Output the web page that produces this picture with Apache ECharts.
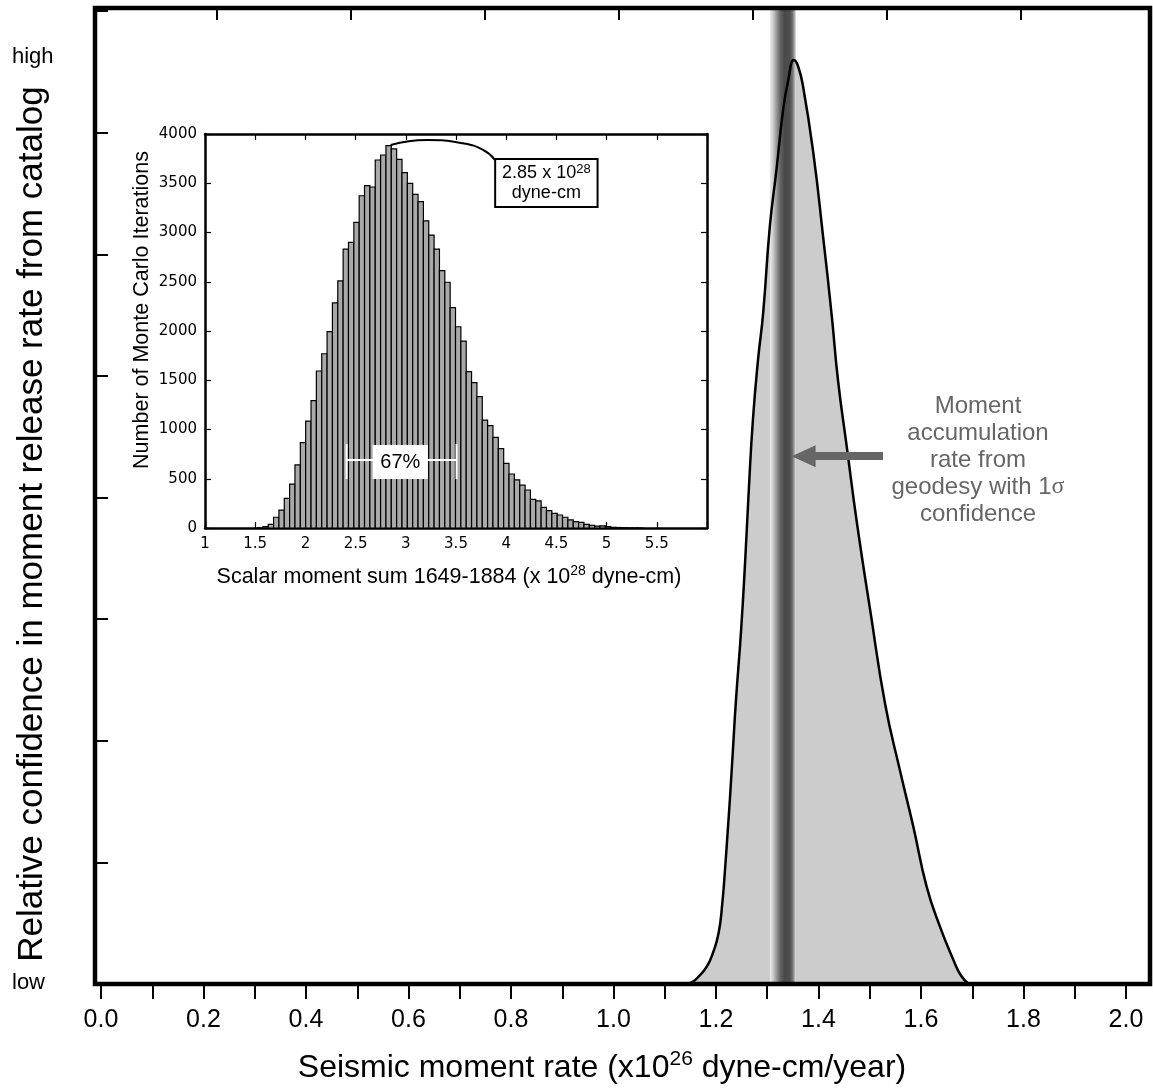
<!DOCTYPE html>
<html>
<head>
<meta charset="utf-8">
<script src="https://cdn.jsdelivr.net/npm/echarts@6/dist/echarts.min.js"></script>
<style>
  html, body { margin: 0; padding: 0; background: #fff; }
  #main { width: 1153px; height: 1092px; }
</style>
</head>
<body>
<div id="main"></div>
<script>
// main plot: relative confidence in moment release rate (curve)
const curveX = [1.143, 1.155, 1.167, 1.182, 1.194, 1.205, 1.212, 1.218, 1.223, 1.227, 1.233, 1.239, 1.249,
                1.257, 1.264, 1.272, 1.282, 1.292, 1.305, 1.318, 1.331, 1.341, 1.352,
                1.360, 1.370, 1.390, 1.409, 1.426, 1.438, 1.456, 1.475, 1.502, 1.530, 1.559,
                1.585, 1.611, 1.637, 1.663, 1.678, 1.693];
const curveY = [0, 0.02, 0.065, 0.142, 0.255, 0.417, 0.650, 0.964, 1.266, 1.513, 1.924, 2.336, 2.911,
                3.487, 4.063, 4.638, 5.132, 5.516, 6.228, 6.694, 7.188, 7.434, 7.599,
                7.549, 7.379, 6.831, 6.145, 5.488, 4.967, 4.391, 3.791, 3.043, 2.303, 1.755,
                1.294, 0.801, 0.472, 0.200, 0.070, 0];
const yTop = 8.026;
// geodetic moment accumulation rate, 1 sigma band
const bandRange = [1.305, 1.356];
const arrowFrom = [1.526, 4.34];
const arrowTo = [1.371, 4.34];

// inset: histogram of Monte Carlo iterations
const binStart = 1.523;
const binWidth = 0.0533;
const counts = [3, 13, 37, 109, 182, 301, 446, 640, 867, 1086, 1293, 1594, 1769, 1993, 2285, 2508,
  2832, 2900, 3103, 3373, 3475, 3462, 3736, 3787, 3881, 3848, 3742, 3607, 3499, 3388, 3313, 3119,
  2974, 2832, 2613, 2495, 2237, 2043, 1898, 1587, 1475, 1333, 1096, 1039, 921, 805, 657, 548,
  488, 436, 386, 291, 276, 209, 176, 149, 132, 109, 82, 64, 57, 37, 27, 20, 22, 13, 7, 5, 3, 2, 1, 1];
const leaderX = [2.85, 3.21, 3.57, 3.77, 3.89];
const leaderY = [3888, 3939, 3905, 3838, 3736];
const peakBox = [3.89, 3745, 4.91, 3258];
const range67 = [2.41, 3.505, 690];

const FONT = 'Liberation Sans, Arial, sans-serif';

let myChart = echarts.init(document.getElementById('main'));

const bins = counts.map((c, i) => [binStart + i * binWidth, binStart + (i + 1) * binWidth, c]);
const curve = curveX.map((x, i) => [x, curveY[i]]);

const insetTick = { show: true, inside: true, length: 6, lineStyle: { color: '#000', width: 1.2 } };
const insetLine = { show: true, onZero: false, lineStyle: { color: '#000', width: 2.5 } };

myChart.setOption({
  animation: false,
  backgroundColor: '#fff',
  grid: [
    { left: 101, right: 27, top: 8, bottom: 108 },
    { left: 217, width: 804, top: 8, height: 976 },
    { left: 205, top: 134, width: 502, height: 394 }
  ],
  xAxis: [
    {
      gridIndex: 0, type: 'value', min: 0, max: 2, interval: 0.2,
      axisLine: { show: false, onZero: false },
      axisTick: { show: true, inside: false, length: 15, lineStyle: { color: '#000', width: 2 } },
      minorTick: { show: true, splitNumber: 2, length: 15, lineStyle: { color: '#000', width: 2 } },
      axisLabel: { margin: 24, fontSize: 25, color: '#000', fontFamily: FONT, formatter: v => v.toFixed(1) },
      splitLine: { show: false }
    },
    {
      gridIndex: 1, type: 'value', position: 'top', min: 0, max: 6, interval: 1,
      axisLine: { show: false, onZero: false },
      axisTick: { show: true, inside: true, length: 12, lineStyle: { color: '#000', width: 2 } },
      axisLabel: { show: false }, splitLine: { show: false }
    },
    {
      gridIndex: 2, type: 'value', min: 1, max: 6, interval: 0.5,
      axisLine: insetLine, axisTick: insetTick,
      axisLabel: { margin: 9, fontSize: 15, color: '#000', fontFamily: 'DejaVu Sans',
                   formatter: v => (v >= 6 ? '' : String(v)) },
      splitLine: { show: false }
    },
    {
      gridIndex: 2, type: 'value', position: 'top', min: 1, max: 6, interval: 0.5,
      axisLine: insetLine, axisTick: insetTick,
      axisLabel: { show: false }, splitLine: { show: false }
    }
  ],
  yAxis: [
    {
      gridIndex: 0, type: 'value', min: 0, max: yTop, interval: 1, offset: 6,
      axisLine: { show: false, onZero: false },
      axisTick: { show: true, inside: true, length: 13, lineStyle: { color: '#000', width: 2 } },
      axisLabel: { show: false }, splitLine: { show: false }
    },
    { gridIndex: 1, type: 'value', show: false },
    {
      gridIndex: 2, type: 'value', min: 0, max: 4000, interval: 500,
      axisLine: insetLine, axisTick: insetTick,
      axisLabel: { margin: 8, fontSize: 15, color: '#000', fontFamily: 'DejaVu Sans', formatter: v => String(v) },
      splitLine: { show: false }
    },
    {
      gridIndex: 2, type: 'value', position: 'right', min: 0, max: 4000, interval: 500,
      axisLine: insetLine, axisTick: insetTick,
      axisLabel: { show: false }, splitLine: { show: false }
    }
  ],
  series: [
    {
      // filled area under the confidence curve
      type: 'line', xAxisIndex: 0, yAxisIndex: 0, z: 1,
      data: curve, smooth: 0.5, showSymbol: false,
      lineStyle: { width: 0 },
      areaStyle: { color: '#cccccc', opacity: 1 }
    },
    {
      // geodetic rate band
      type: 'custom', xAxisIndex: 0, yAxisIndex: 0, z: 2,
      data: [bandRange],
      renderItem: function (params, api) {
        const a = api.coord([api.value(0), yTop]);
        const b = api.coord([api.value(1), 0]);
        return {
          type: 'rect',
          shape: { x: a[0], y: a[1], width: b[0] - a[0], height: b[1] - a[1] },
          style: {
            fill: new echarts.graphic.LinearGradient(0, 0, 1, 0, [
              { offset: 0, color: '#ececec' },
              { offset: 0.12, color: '#cdcdcd' },
              { offset: 0.25, color: '#9a9a9a' },
              { offset: 0.4, color: '#646464' },
              { offset: 0.55, color: '#4a4a4a' },
              { offset: 0.75, color: '#4e4e4e' },
              { offset: 0.86, color: '#6a6a6a' },
              { offset: 0.94, color: '#a8a8a8' },
              { offset: 1, color: '#e0e0e0' }
            ])
          }
        };
      }
    },
    {
      // curve outline + arrow
      type: 'line', xAxisIndex: 0, yAxisIndex: 0, z: 3,
      data: curve, smooth: 0.5, showSymbol: false,
      lineStyle: { color: '#000', width: 2.5 },
      markLine: {
        silent: true, symbol: ['none', 'triangle'], symbolSize: [22, 24],
        lineStyle: { color: '#666', width: 8, type: 'solid' },
        label: { show: false },
        data: [[{ coord: arrowFrom }, { coord: arrowTo }]]
      }
    },
    {
      // inset histogram
      type: 'custom', xAxisIndex: 2, yAxisIndex: 2, z: 5,
      data: bins,
      renderItem: function (params, api) {
        const p0 = api.coord([api.value(0), 0]);
        const p1 = api.coord([api.value(1), api.value(2)]);
        return {
          type: 'rect',
          shape: { x: p0[0], y: p1[1], width: p1[0] - p0[0], height: p0[1] - p1[1] },
          style: { fill: '#a9a9a9', stroke: '#000', lineWidth: 1.2 }
        };
      }
    },
    {
      // leader line from histogram peak to label box
      type: 'line', xAxisIndex: 2, yAxisIndex: 2, z: 6,
      data: leaderX.map((x, i) => [x, leaderY[i]]),
      smooth: 0.5, showSymbol: false,
      lineStyle: { color: '#000', width: 2 }
    }
  ]
});

// annotation elements placed in inset data units
const px = p => myChart.convertToPixel({ gridIndex: 2 }, p);
const b0 = px([peakBox[0], peakBox[1]]);
const b1 = px([peakBox[2], peakBox[3]]);
const r0 = px([range67[0], range67[2]]);
const r1 = px([range67[1], range67[2]]);
const rTop = px([range67[0], 853])[1];
const rBot = px([range67[0], 497])[1];
const tb0 = px([2.67, 843]);
const tb1 = px([3.22, 497]);

myChart.setOption({
  graphic: [
    { type: 'rect', z: 50, shape: { x: 95, y: 8, width: 1055, height: 976 },
      style: { fill: 'none', stroke: '#000', lineWidth: 4.5 } },
    { type: 'text', x: 12, y: 57, style: { text: 'high', font: '22px ' + FONT, fill: '#000', verticalAlign: 'middle' } },
    { type: 'text', x: 12, y: 983, style: { text: 'low', font: '22px ' + FONT, fill: '#000', verticalAlign: 'middle' } },
    { type: 'text', x: 32, y: 524, rotation: Math.PI / 2,
      style: { text: 'Relative confidence in moment release rate from catalog', font: '35px ' + FONT,
               fill: '#000', align: 'center', verticalAlign: 'middle' } },
    { type: 'text', x: 602, y: 1068,
      style: { text: '{a|Seismic moment rate (x10}{s|26}{a| dyne-cm/year)}', align: 'center', verticalAlign: 'middle',
               rich: { a: { fontSize: 32, fontFamily: FONT, lineHeight: 38, fill: '#000' },
                       s: { fontSize: 21, fontFamily: FONT, lineHeight: 22, verticalAlign: 'top', fill: '#000' } } } },
    { type: 'text', x: 142, y: 310, rotation: Math.PI / 2,
      style: { text: 'Number of Monte Carlo Iterations', font: '21.5px ' + FONT,
               fill: '#000', align: 'center', verticalAlign: 'middle' } },
    { type: 'text', x: 449, y: 577,
      style: { text: '{a|Scalar moment sum 1649-1884 (x 10}{s|28}{a| dyne-cm)}', align: 'center', verticalAlign: 'middle',
               rich: { a: { fontSize: 21.5, fontFamily: FONT, lineHeight: 26, fill: '#000' },
                       s: { fontSize: 14, fontFamily: FONT, lineHeight: 14, verticalAlign: 'top', fill: '#000' } } } },
    { type: 'text', x: 978, y: 460,
      style: { text: 'Moment\naccumulation\nrate from\ngeodesy with 1{g|σ}\nconfidence',
               font: '24px ' + FONT, fill: '#666', align: 'center', verticalAlign: 'middle', lineHeight: 27,
               rich: { g: { fontSize: 24, fontFamily: 'Liberation Serif', fill: '#666', lineHeight: 27 } } } },
    // peak value box
    { type: 'rect', z: 60, shape: { x: b0[0], y: b0[1], width: b1[0] - b0[0], height: b1[1] - b0[1] },
      style: { fill: '#fff', stroke: '#000', lineWidth: 2 } },
    { type: 'text', z: 61, x: (b0[0] + b1[0]) / 2, y: (b0[1] + b1[1]) / 2,
      style: { text: '{a|2.85 x 10}{s|28}\n{a|dyne-cm}', align: 'center', verticalAlign: 'middle',
               rich: { a: { fontSize: 18, fontFamily: FONT, lineHeight: 20, fill: '#000' },
                       s: { fontSize: 13, fontFamily: FONT, lineHeight: 12, verticalAlign: 'top', fill: '#000' } } } },
    // 67% range marker
    { type: 'line', z: 60, shape: { x1: r0[0], y1: r0[1], x2: r1[0], y2: r1[1] },
      style: { stroke: '#fff', lineWidth: 2 } },
    { type: 'line', z: 60, shape: { x1: r0[0], y1: rTop, x2: r0[0], y2: rBot },
      style: { stroke: '#fff', lineWidth: 2 } },
    { type: 'line', z: 60, shape: { x1: r1[0], y1: rTop, x2: r1[0], y2: rBot },
      style: { stroke: '#fff', lineWidth: 2 } },
    { type: 'rect', z: 60, shape: { x: tb0[0], y: tb0[1], width: tb1[0] - tb0[0], height: tb1[1] - tb0[1] },
      style: { fill: '#fff' } },
    { type: 'text', z: 61, x: (tb0[0] + tb1[0]) / 2, y: (tb0[1] + tb1[1]) / 2,
      style: { text: '67%', font: '20px ' + FONT, fill: '#000', align: 'center', verticalAlign: 'middle' } }
  ]
});

window.onresize = myChart.resize;
</script>
</body>
</html>
